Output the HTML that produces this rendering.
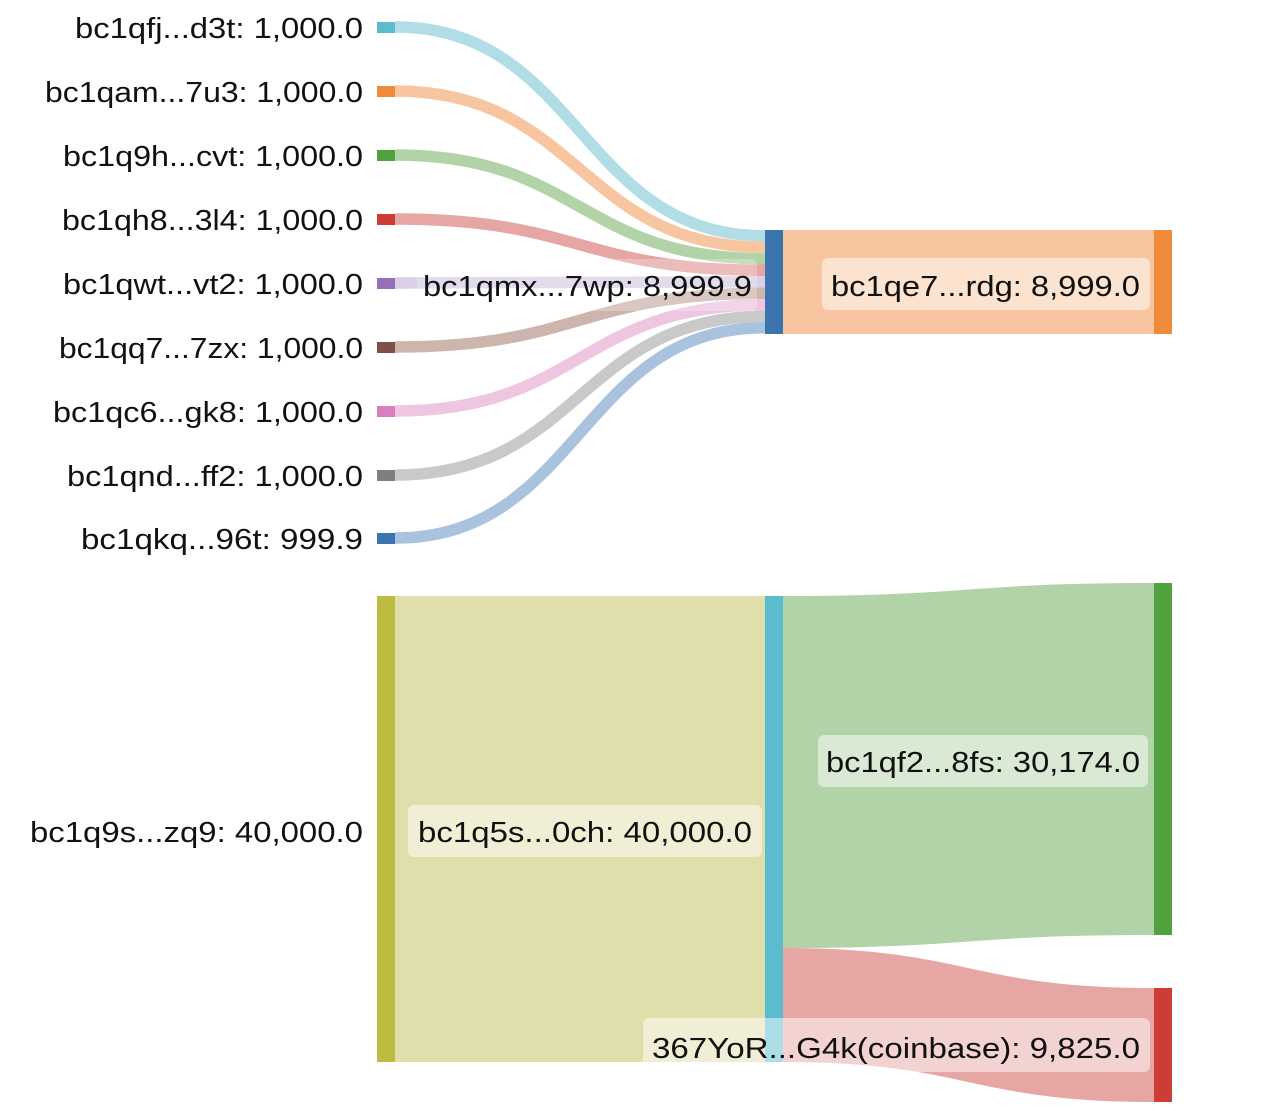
<!DOCTYPE html>
<html><head><meta charset="utf-8"><style>
html,body{margin:0;padding:0;background:#fff}
text{font-family:"Liberation Sans",sans-serif;font-size:29px;fill:#111}
</style></head><body>
<svg width="1268" height="1106" xmlns="http://www.w3.org/2000/svg">
<g fill="none" stroke-width="11.5">
<path d="M395,27 C580,27 580,235.8 765,235.8" stroke="#b0dde6"/>
<path d="M395,91 C580,91 580,247.3 765,247.3" stroke="#f7c6a0"/>
<path d="M395,155 C580,155 580,258.8 765,258.8" stroke="#b2d3a8"/>
<path d="M395,219 C580,219 580,270.3 765,270.3" stroke="#e5a6a4"/>
<path d="M395,283 C580,283 580,281.8 765,281.8" stroke="#d9cfe6"/>
<path d="M395,347 C580,347 580,293.3 765,293.3" stroke="#cdb5ae"/>
<path d="M395,411 C580,411 580,304.8 765,304.8" stroke="#eec6e2"/>
<path d="M395,475 C580,475 580,316.3 765,316.3" stroke="#c9c9c9"/>
<path d="M395,538 C580,538 580,327.8 765,327.8" stroke="#a9c3de"/>
</g>
<rect x="783" y="230" width="371" height="104" fill="#f7c6a0"/>
<rect x="395" y="596" width="370" height="466" fill="#e0dfac"/>
<path d="M783,596 C968,596 968,583 1154,583 L1154,935 C968,935 968,948 783,948 Z" fill="#b2d3a8"/>
<path d="M783,948 C968,948 968,988 1154,988 L1154,1102 C968,1102 968,1062 783,1062 Z" fill="#e5a6a4"/>
<g>
<rect x="377" y="22" width="18" height="11" fill="#5bbccf"/>
<rect x="377" y="86" width="18" height="11" fill="#ef8a3a"/>
<rect x="377" y="150" width="18" height="11" fill="#53a03f"/>
<rect x="377" y="214" width="18" height="11" fill="#cc3d36"/>
<rect x="377" y="278" width="18" height="11" fill="#9470b8"/>
<rect x="377" y="342" width="18" height="11" fill="#7d5148"/>
<rect x="377" y="406" width="18" height="11" fill="#d97fbf"/>
<rect x="377" y="470" width="18" height="11" fill="#7f7f7f"/>
<rect x="377" y="533" width="18" height="11" fill="#3a75b0"/>
<rect x="765" y="230" width="18" height="104" fill="#3a75b0"/>
<rect x="1154" y="230" width="18" height="104" fill="#ef8a3a"/>
<rect x="377" y="596" width="18" height="466" fill="#bcbc42"/>
<rect x="765" y="596" width="18" height="466" fill="#5bbccf"/>
<rect x="1154" y="583" width="18" height="352" fill="#53a03f"/>
<rect x="1154" y="988" width="18" height="114" fill="#cc3d36"/>
</g>
<g fill="#fff" fill-opacity="0.5">
<rect x="417" y="259" width="340" height="52" rx="6" fill-opacity="0.25"/>
<rect x="822" y="258" width="328" height="52" rx="6"/>
<rect x="818" y="735" width="330" height="52" rx="6"/>
<rect x="408" y="805" width="354" height="52" rx="6"/>
<rect x="643" y="1018" width="507" height="54" rx="6"/>
</g>
<g text-anchor="end" lengthAdjust="spacingAndGlyphs">
<text x="363" y="38" textLength="288" lengthAdjust="spacingAndGlyphs">bc1qfj...d3t: 1,000.0</text>
<text x="363" y="102" textLength="318" lengthAdjust="spacingAndGlyphs">bc1qam...7u3: 1,000.0</text>
<text x="363" y="166" textLength="300" lengthAdjust="spacingAndGlyphs">bc1q9h...cvt: 1,000.0</text>
<text x="363" y="230" textLength="301" lengthAdjust="spacingAndGlyphs">bc1qh8...3l4: 1,000.0</text>
<text x="363" y="294" textLength="300" lengthAdjust="spacingAndGlyphs">bc1qwt...vt2: 1,000.0</text>
<text x="363" y="358" textLength="304" lengthAdjust="spacingAndGlyphs">bc1qq7...7zx: 1,000.0</text>
<text x="363" y="422" textLength="310" lengthAdjust="spacingAndGlyphs">bc1qc6...gk8: 1,000.0</text>
<text x="363" y="486" textLength="296" lengthAdjust="spacingAndGlyphs">bc1qnd...ff2: 1,000.0</text>
<text x="363" y="549" textLength="282" lengthAdjust="spacingAndGlyphs">bc1qkq...96t: 999.9</text>
<text x="363" y="842" textLength="333" lengthAdjust="spacingAndGlyphs">bc1q9s...zq9: 40,000.0</text>
<text x="752" y="296" textLength="329" lengthAdjust="spacingAndGlyphs">bc1qmx...7wp: 8,999.9</text>
<text x="1140" y="296" textLength="309" lengthAdjust="spacingAndGlyphs">bc1qe7...rdg: 8,999.0</text>
<text x="1140" y="772" textLength="314" lengthAdjust="spacingAndGlyphs">bc1qf2...8fs: 30,174.0</text>
<text x="752" y="842" textLength="334" lengthAdjust="spacingAndGlyphs">bc1q5s...0ch: 40,000.0</text>
<text x="1140" y="1058" textLength="488" lengthAdjust="spacingAndGlyphs">367YoR...G4k(coinbase): 9,825.0</text>
</g>
</svg>
</body></html>
